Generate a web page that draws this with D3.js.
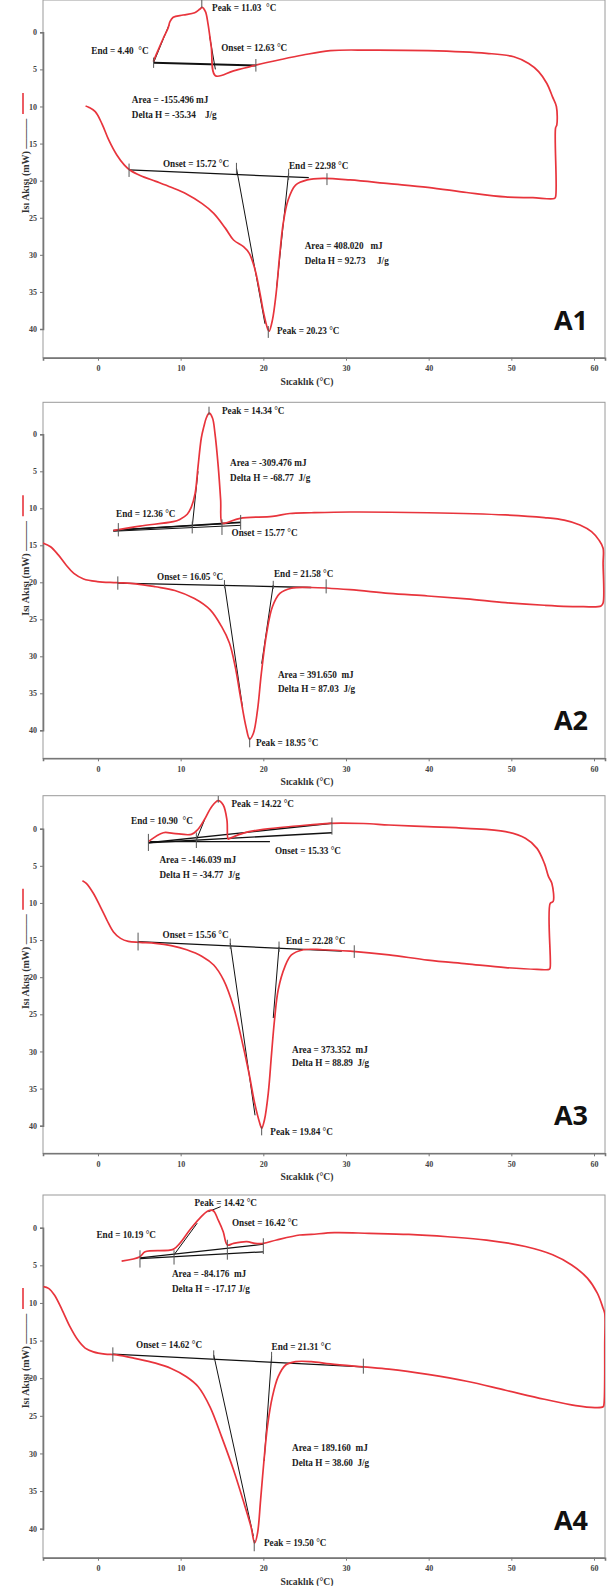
<!DOCTYPE html>
<html><head><meta charset="utf-8">
<script src="https://cdn.jsdelivr.net/npm/d3@7"></script>
<style>body{margin:0;background:#fff}svg{display:block}text{white-space:pre}</style>
</head><body><svg id="c" width="609" height="1586"></svg>
<script>
// ---------- DATA ----------
const xTicks = [0,10,20,30,40,50,60];
const yTicks = [0,5,10,15,20,25,30,35,40];
const xTitle = "Sıcaklık (°C)";
const yTitle = "Isı Akışı (mW) ———";
const panelNames = ["A1","A2","A3","A4"];

// curves: [temperature °C, heat flow mW (axis value)]
const a1Curve = [[-1.5,9.93],[-1.13,10.1],[-0.33,10.7],[0.47,12.3],[1.3,14.5],[2.26,16.5],[3.2,17.9],[3.9,18.6],[5.1,19.3],[7.0,20.1],[8.85,20.9],[10.7,21.8],[12.6,23.1],[14.0,24.4],[15.4,26.4],[16.4,28.0],[17.6,28.9],[18.3,29.8],[19.0,32.0],[19.6,35.2],[20.05,37.9],[20.5,39.9],[20.7,40.3],[21.1,38.8],[21.55,35.2],[22.0,29.8],[22.4,25.8],[23.0,22.6],[23.9,20.6],[25.3,19.9],[27.2,19.7],[30.5,19.9],[35.2,20.4],[39.9,20.9],[44.6,21.6],[49.3,22.2],[52.6,22.3],[55.2,22.4],[55.35,22.2],[55.35,12.9],[55.5,12.5],[55.45,10.0],[54.97,8.67],[54.3,6.9],[53.3,5.3],[52.1,4.2],[50.3,3.3],[47.0,2.83],[39.9,2.47],[32.8,2.4],[28.1,2.47],[24.8,3.06],[22.0,3.7],[19.2,4.4],[16.4,5.2],[14.2,5.85],[13.7,1.94],[13.3,-1.2],[13.0,-2.78],[12.6,-3.37],[12.3,-3.1],[11.7,-2.64],[10.3,-2.33],[9.1,-2.02],[8.71,-1.43],[8.47,-0.54],[7.9,0.8],[7.2,2.6],[6.69,3.96]];
const a2Curve = [[-6.68,14.7],[-5.74,15.2],[-4.8,16.3],[-3.86,17.66],[-2.92,18.8],[-1.74,19.55],[-0.09,19.9],[2.26,20.05],[4.6,20.2],[6.96,20.6],[9.3,21.1],[11.67,22.2],[13.55,23.7],[14.96,26.0],[15.9,28.2],[16.6,31.4],[17.3,35.9],[17.9,39.5],[18.35,41.2],[18.8,40.4],[19.3,37.25],[19.76,32.3],[20.4,26.9],[21.1,23.3],[22.0,21.5],[23.4,20.8],[25.8,20.7],[30.5,21.0],[35.2,21.5],[39.9,21.85],[44.6,22.25],[49.3,22.75],[54.0,23.1],[58.7,23.3],[60.85,23.2],[61.1,22.8],[61.1,17.4],[61.1,15.4],[60.6,14.3],[59.7,13.15],[58.3,12.25],[56.4,11.6],[54.0,11.26],[49.3,10.9],[39.9,10.6],[30.5,10.5],[25.8,10.6],[23.2,10.7],[21.1,11.1],[17.2,11.35],[15.4,12.0],[15.0,12.0],[14.84,8.9],[14.55,4.4],[14.15,-0.13],[13.85,-2.2],[13.45,-2.85],[13.1,-2.2],[12.8,-1.0],[12.5,0.5],[12.1,4.4],[11.75,8.0],[11.3,9.8],[10.8,10.8],[9.9,11.5],[9.1,11.8],[5.08,12.4],[1.85,13.0]];
const a3Curve = [[-1.88,7.0],[-1.41,7.36],[-0.56,8.7],[0.28,10.5],[1.08,12.3],[1.88,13.9],[2.73,14.77],[3.67,15.17],[5.08,15.3],[6.96,15.44],[8.85,15.75],[10.73,16.3],[12.6,17.2],[14.0,18.36],[15.2,20.4],[16.4,24.0],[17.3,28.0],[18.26,32.9],[18.96,37.0],[19.58,39.7],[19.8,40.35],[20.14,39.2],[20.6,35.6],[21.0,30.25],[21.35,25.8],[21.8,21.7],[22.6,18.6],[23.4,17.0],[24.85,16.3],[27.2,16.3],[30.5,16.5],[35.2,17.0],[39.9,17.7],[44.6,18.2],[49.3,18.7],[53.1,18.94],[54.6,18.94],[54.7,18.7],[54.7,10.05],[55.06,9.8],[54.9,7.36],[54.5,6.46],[54.0,4.67],[53.1,2.65],[51.7,1.3],[49.3,0.4],[44.6,-0.04],[39.9,-0.27],[35.2,-0.5],[32.1,-0.7],[28.1,-0.73],[24.0,-0.36],[20.0,0.08],[17.6,0.6],[15.97,1.3],[15.75,1.4],[15.6,-1.17],[15.15,-3.19],[14.55,-3.77],[13.75,-2.96],[12.9,-1.27],[12.1,0.08],[11.3,0.76],[9.1,0.62],[7.9,0.54],[6.09,1.75]];
const a4Curve = [[-6.6,7.84],[-5.98,8.06],[-5.27,8.95],[-4.33,10.94],[-3.39,13.15],[-2.45,14.9],[-1.55,16.0],[-0.56,16.5],[0.85,16.8],[2.26,16.9],[4.6,17.4],[6.96,18.0],[8.85,18.7],[10.7,19.8],[12.1,21.1],[13.55,23.8],[14.96,27.8],[16.4,32.2],[17.55,36.2],[18.5,39.7],[18.96,41.9],[19.3,40.6],[19.67,36.2],[20.05,31.3],[20.5,26.4],[21.1,22.45],[21.8,19.8],[22.7,18.25],[23.9,17.8],[25.8,17.8],[28.1,18.1],[32.1,18.5],[35.2,18.8],[39.9,19.5],[44.6,20.4],[49.3,21.6],[54.0,22.8],[57.8,23.65],[60.1,23.9],[61.1,23.8],[61.2,23.5],[61.3,15.4],[61.3,11.4],[61.1,10.7],[60.4,8.7],[59.2,6.7],[57.3,4.96],[55.0,3.6],[51.7,2.5],[47.0,1.64],[42.3,1.2],[37.6,0.89],[32.8,0.75],[28.6,0.66],[25.8,0.89],[24.4,0.97],[21.6,1.63],[20.0,2.08],[19.0,2.08],[18.0,1.86],[16.4,2.08],[15.65,2.3],[15.15,0.53],[14.55,-1.0],[13.95,-2.26],[13.35,-2.26],[12.3,-1.25],[11.1,0.3],[9.9,2.08],[9.1,2.88],[5.7,3.2],[5.08,3.85],[2.86,4.43]];

// black construction lines: [T1, v1, T2, v2, width]
const a1Lines = [[6.73,4.09,19.1,4.49,2],[6.73,4.09,8.6,-1.0,1],[14.2,5.0,13.5,0.5,1],[3.76,18.56,25.5,19.6,1.3],[16.75,18.3,20.2,39.3,1],[23.06,19.0,21.6,34.5,1]];
const a2Lines = [[1.85,13.0,17.26,11.9,1.6],[1.85,13.1,17.26,12.3,1],[11.4,12.5,12.1,5.0,1],[3.67,12.8,15.0,12.1,1],[2.4,20.1,25.8,20.7,1.3],[15.3,20.2,17.5,37.0,1],[21.2,20.36,19.8,31.0,1]];
const a3Lines = [[6.1,1.9,28.3,-0.73,1.4],[6.1,1.9,28.3,0.54,1.4],[6.3,1.75,20.8,1.75,1.2],[11.9,1.5,12.9,-1.2,1],[4.85,15.2,29.5,16.5,1.3],[16.0,15.4,19.0,38.6,1],[21.9,15.9,21.2,25.5,1]];
const a4Lines = [[5.08,4.1,20.0,3.2,1.2],[5.08,4.0,20.0,2.2,1.2],[9.2,3.6,12.0,-0.6,1],[13.35,-2.13,14.84,-2.8,1],[1.8,16.8,32.1,18.5,1.3],[14.0,16.9,18.8,41.0,1],[21.0,17.1,20.1,31.0,1]];

// small vertical marker ticks: [T, v1, v2]
const a1Marks = [[6.73,3.4,4.8],[19.1,3.6,5.3],[12.56,-4.4,-3.3],[3.76,17.7,19.5],[27.7,19.0,20.6],[16.75,17.6,19.1],[23.06,18.4,19.9],[20.6,39.6,41.2]];
const a2Marks = [[2.46,12.0,13.8],[11.4,11.8,13.4],[15.0,11.5,13.6],[17.26,10.9,12.9],[13.43,-3.73,-2.6],[2.4,19.2,21.0],[27.6,19.6,21.5],[15.3,19.7,20.8],[21.2,19.8,20.9],[18.35,41.0,42.3]];
const a3Marks = [[6.1,0.7,3.0],[11.9,0.5,2.6],[28.3,-1.5,0.8],[14.55,-4.4,-3.5],[4.85,14.0,16.4],[31.0,15.7,17.4],[16.0,14.8,16.2],[21.9,15.2,16.6],[19.8,40.1,41.3]];
const a4Marks = [[5.08,3.0,5.3],[9.2,3.0,4.9],[15.65,1.6,4.25],[20.0,1.4,3.5],[1.8,15.9,17.8],[32.1,17.4,19.4],[14.0,16.3,17.6],[21.0,16.5,17.8],[18.9,41.5,43.0]];

// annotation texts: [text, T (left edge), v (centre)]
const a1Labels = [["Peak = 11.03  °C",13.8,-3.37],["End = 4.40  °C",-0.8,2.48],["Onset = 12.63 °C",14.9,2.08],["Area = -155.496 mJ",4.1,9.12],["Delta H = -35.34    J/g",4.1,11.1],["Onset = 15.72 °C",7.86,17.75],["End = 22.98 °C",23.1,17.98],["Area = 408.020   mJ",25.0,28.8],["Delta H = 92.73     J/g",25.0,30.7],["Peak = 20.23 °C",21.65,40.25]];
const a2Labels = [["Peak = 14.34 °C",15.0,-3.28],["Area = -309.476 mJ",15.97,3.84],["Delta H = -68.77  J/g",15.97,5.81],["End = 12.36 °C",2.18,10.77],["Onset = 15.77 °C",16.15,13.24],["Onset = 16.05 °C",7.14,19.15],["End = 21.58 °C",21.29,18.78],["Area = 391.650  mJ",21.77,32.4],["Delta H = 87.03  J/g",21.77,34.3],["Peak = 18.95 °C",19.1,41.6]];
const a3Labels = [["Peak = 14.22 °C",16.15,-3.33],["End = 10.90  °C",4.0,-1.17],["Onset = 15.33 °C",21.4,2.87],["Area = -146.039 mJ",7.44,4.2],["Delta H = -34.77  J/g",7.44,6.14],["Onset = 15.56 °C",7.81,14.3],["End = 22.28 °C",22.74,15.1],["Area = 373.352  mJ",23.47,29.7],["Delta H = 88.89  J/g",23.47,31.5],["Peak = 19.84 °C",20.85,40.8]];
const a4Labels = [["Peak = 14.42 °C",11.67,-3.38],["Onset = 16.42 °C",16.2,-0.72],["End = 10.19 °C",-0.18,0.88],["Area = -84.176  mJ",8.95,6.06],["Delta H = -17.17 J/g",8.95,8.05],["Onset = 14.62 °C",4.6,15.5],["End = 21.31 °C",21.0,15.8],["Area = 189.160  mJ",23.47,29.24],["Delta H = 38.60  J/g",23.47,31.2],["Peak = 19.50 °C",20.08,41.85]];

// ---------- LAYOUT ----------
const layout = [
  {top:0,     bottom:357.7,  y0:32.3,   y40:329.0},
  {top:402.3, bottom:758.3,  y0:434.3,  y40:730.3},
  {top:795.7, bottom:1153.3, y0:828.7,  y40:1125.7},
  {top:1195,  bottom:1557.7, y0:1227.7, y40:1528.7}
];
const curves=[a1Curve,a2Curve,a3Curve,a4Curve];
const linesAll=[a1Lines,a2Lines,a3Lines,a4Lines];
const marksAll=[a1Marks,a2Marks,a3Marks,a4Marks];
const labelsAll=[a1Labels,a2Labels,a3Labels,a4Labels];

const svg = d3.select("#c");
const L=43, R=605;
const x = d3.scaleLinear().domain([-6.65,61.33]).range([L,R]);
const serif = "'Liberation Serif','Times New Roman',serif";
const red = "#e8343c";

layout.forEach((p,i)=>{
  const y = d3.scaleLinear().domain([0,40]).range([p.y0,p.y40]);
  const g = svg.append("g");
  const cid = "clip"+i;
  svg.append("clipPath").attr("id",cid).append("rect")
    .attr("x",L).attr("y",p.top).attr("width",R-L).attr("height",p.bottom-p.top);

  // frame
  g.append("rect").attr("x",L).attr("y",p.top).attr("width",R-L).attr("height",p.bottom-p.top)
    .attr("fill","none").attr("stroke","#9a9a9a").attr("stroke-width",1);

  // axes
  const xa = g.append("g").attr("transform",`translate(0,${p.bottom})`)
    .call(d3.axisBottom(x).tickValues(xTicks).tickSize(3).tickPadding(5).tickFormat(d3.format("d")));
  const ya = g.append("g").attr("transform",`translate(${L},0)`)
    .call(d3.axisLeft(y).tickValues(yTicks).tickSize(3).tickPadding(3).tickFormat(d3.format("d")));
  [xa,ya].forEach(a=>{
    a.select(".domain").attr("stroke","#777").attr("stroke-width",1.6);
    a.selectAll(".tick line").attr("stroke","#777");
    a.selectAll(".tick text").attr("font-family",serif).attr("font-size",8).attr("font-weight","bold").attr("fill","#444");
  });

  // axis titles
  g.append("text").attr("x",307).attr("y",p.bottom+27).attr("text-anchor","middle")
    .attr("font-family",serif).attr("font-weight","bold").attr("font-size",10.5).attr("fill","#333")
    .attr("transform",`translate(307,0) scale(0.92,1) translate(-307,0)`).text(xTitle);
  g.append("line").attr("x1",23).attr("x2",23).attr("y1",p.top+93).attr("y2",p.top+114)
    .attr("stroke",red).attr("stroke-width",1.6);
  g.append("text").attr("transform",`translate(29,${p.top+166}) rotate(-90)`).attr("text-anchor","middle")
    .attr("font-family",serif).attr("font-weight","bold").attr("font-size",10).attr("fill","#333").text(yTitle);

  const pg = g.append("g").attr("clip-path",`url(#${cid})`);
  // construction lines
  pg.selectAll("line.c").data(linesAll[i]).join("line")
    .attr("x1",d=>x(d[0])).attr("y1",d=>y(d[1])).attr("x2",d=>x(d[2])).attr("y2",d=>y(d[3]))
    .attr("stroke","#111").attr("stroke-width",d=>d[4]);
  // curve
  pg.append("path").datum(curves[i])
    .attr("d",d3.line().x(d=>x(d[0])).y(d=>y(d[1])).curve(d3.curveCatmullRom.alpha(0.5)))
    .attr("fill","none").attr("stroke",red).attr("stroke-width",1.7).attr("stroke-linejoin","round");
  // marker ticks
  pg.selectAll("line.m").data(marksAll[i]).join("line")
    .attr("x1",d=>x(d[0])).attr("x2",d=>x(d[0])).attr("y1",d=>y(d[1])).attr("y2",d=>y(d[2]))
    .attr("stroke","#555").attr("stroke-width",1);

  // annotation labels
  labelsAll[i].forEach(l=>{
    const lx=x(l[1]), ly=y(l[2]);
    g.append("text").attr("transform",`translate(${lx},${ly+3.5}) scale(0.92,1)`)
      .attr("font-family",serif).attr("font-weight","bold").attr("font-size",10).attr("fill","#1a1a1a").text(l[0]);
  });

  // panel name
  g.append("text").attr("x",R-34).attr("y",p.bottom-28).attr("text-anchor","middle")
    .attr("font-family","'Open Sans',sans-serif").attr("font-weight","bold").attr("font-size",27).attr("fill","#111")
    .text(panelNames[i]);
});
</script></body></html>
